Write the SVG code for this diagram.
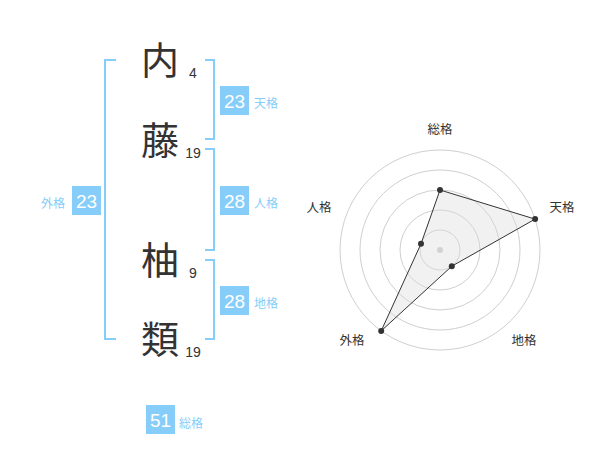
<svg xmlns="http://www.w3.org/2000/svg" width="600" height="470" viewBox="0 0 600 470">
<style>
.kanji{font-family:"Noto Sans CJK JP","Noto Sans CJK SC",sans-serif;font-size:38px;fill:#333;text-anchor:middle}
.num{font-family:"Liberation Sans",Arial,sans-serif;font-size:14px;fill:#333;text-anchor:middle}
.br{fill:none;stroke:#86cdf9;stroke-width:2}
.box{fill:#86cdf9}
.bt{font-family:"Liberation Sans",Arial,sans-serif;font-size:19px;fill:#fff;text-anchor:middle}
.bl{font-family:"Noto Sans CJK JP",sans-serif;font-size:12px;fill:#86cdf9}
.ring{fill:none;stroke:#cfcfcf;stroke-width:1}
.rl{font-family:"Noto Sans CJK JP",sans-serif;font-size:12.5px;fill:#333;text-anchor:middle}
.pt{fill:#333}
</style>
<rect width="600" height="470" fill="#fff"/>
<g id="names">
<text class="kanji" x="160" y="74">内</text>
<text class="kanji" x="160" y="154">藤</text>
<text class="kanji" x="160" y="274">柚</text>
<text class="kanji" x="160" y="353">類</text>
<text class="num" x="193" y="78">4</text>
<text class="num" x="193" y="158">19</text>
<text class="num" x="193" y="278">9</text>
<text class="num" x="193" y="357">19</text>
</g>
<g id="brackets">
<path class="br" d="M116,60 H105 V339 H116"/>
<path class="br" d="M205,60 H214 V139 H205"/>
<path class="br" d="M205,149 H214 V250 H205"/>
<path class="br" d="M205,260 H214 V339 H205"/>
</g>
<g id="tenkaku">
<rect class="box" x="220" y="86" width="29" height="29"/>
<text class="bt" x="234.5" y="107.5">23</text>
<text class="bl" x="254" y="108">天格</text>
</g>
<g id="jinkaku">
<rect class="box" x="220" y="186" width="29" height="29"/>
<text class="bt" x="234.5" y="207.5">28</text>
<text class="bl" x="254" y="208">人格</text>
</g>
<g id="chikaku">
<rect class="box" x="220" y="286" width="29" height="29"/>
<text class="bt" x="234.5" y="307.5">28</text>
<text class="bl" x="254" y="308">地格</text>
</g>
<g id="gaikaku">
<rect class="box" x="72" y="186" width="29" height="29"/>
<text class="bt" x="86.5" y="207.5">23</text>
<text class="bl" x="41" y="208">外格</text>
</g>
<g id="soukaku">
<rect class="box" x="146" y="405" width="29" height="29"/>
<text class="bt" x="160.5" y="426.5">51</text>
<text class="bl" x="179" y="428">総格</text>
</g>
<g id="radar">
<circle class="ring" cx="440" cy="250" r="20"/>
<circle class="ring" cx="440" cy="250" r="40"/>
<circle class="ring" cx="440" cy="250" r="60"/>
<circle class="ring" cx="440" cy="250" r="80"/>
<circle class="ring" cx="440" cy="250" r="100"/>
<circle cx="440" cy="250" r="3" fill="#ccc"/>
<polygon points="440,190 535.1,219.1 451.8,266.2 381.2,330.9 421,243.8" fill="rgba(220,220,220,0.4)" stroke="#333" stroke-width="1"/>
<circle class="pt" cx="440" cy="190" r="3"/>
<circle class="pt" cx="535.1" cy="219.1" r="3"/>
<circle class="pt" cx="451.8" cy="266.2" r="3"/>
<circle class="pt" cx="381.2" cy="330.9" r="3"/>
<circle class="pt" cx="421" cy="243.8" r="3"/>
<text class="rl" x="440" y="134">総格</text>
<text class="rl" x="562" y="212">天格</text>
<text class="rl" x="524" y="345">地格</text>
<text class="rl" x="352" y="345">外格</text>
<text class="rl" x="319" y="212">人格</text>
</g>
</svg>
